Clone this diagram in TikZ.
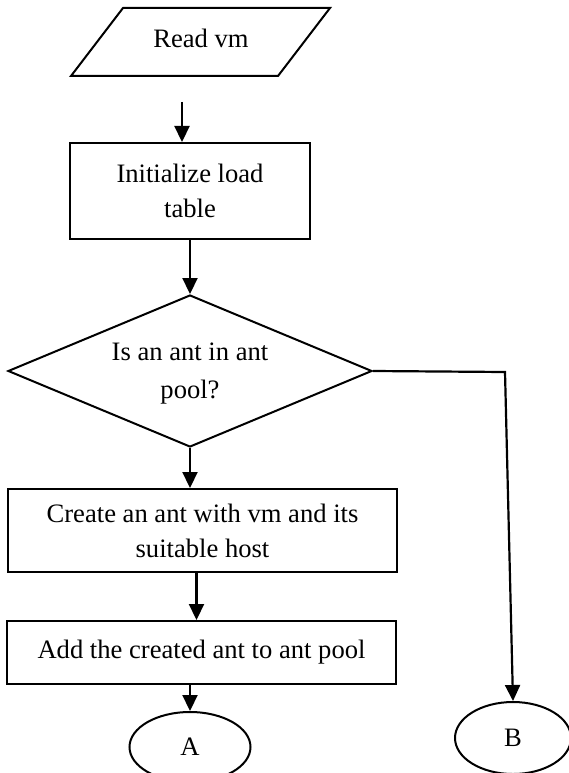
\documentclass[tikz,border=0pt]{standalone}
\usepackage{fontspec}
\setmainfont{Liberation Serif}
\usetikzlibrary{arrows.meta,shapes.geometric}
\begin{document}
\begin{tikzpicture}[x=1pt,y=-1pt,
  every node/.style={font=\fontsize{26.6}{35}\selectfont, align=center},
  shp/.style={draw, line width=2pt},
  box/.style={shp, rectangle, inner sep=0pt},
  arr/.style={line width=2.2pt, -{Triangle[length=16pt,width=15pt]}}]
\useasboundingbox (0,0) rectangle (568,773);
% parallelogram input
\draw[shp, line join=miter] (123,8) -- (330,8) -- (278,76) -- (71,76) -- cycle;
\node (read) at (201,38) {Read vm};
\coordinate (r1) at (182,102);
% boxes
\node[box, minimum width=240pt, minimum height=96pt] (init) at (190,191) {Initialize load\\table};
\node[shp, diamond, inner sep=0pt, minimum width=364pt, minimum height=152pt] (dia) at (190,371) {};
\node[font=\fontsize{26.6}{38}\selectfont] at (190,374) {Is an ant in ant\\pool?};
\node[box, minimum width=389pt, minimum height=83pt] (create) at (202.5,530.5) {Create an ant with vm and its\\suitable host};
\node[box, minimum width=389pt, minimum height=63pt] (add) at (201.5,652.5) {Add the created ant to ant pool};
\node[shp, ellipse, inner sep=0pt, minimum width=121pt, minimum height=70pt] (A) at (190,747) {A};
\node[shp, ellipse, inner sep=0pt, minimum width=116pt, minimum height=72pt] (B) at (513,738) {B};
\coordinate (bc) at (505,372);
% connectors
\draw[arr] (r1) -- (r1 |- init.north);
\draw[arr] (init.south) -- (dia.north);
\draw[arr] (dia.south) -- (dia.south |- create.north);
\draw[arr] ([xshift=-6pt]create.south) -- ([xshift=-6pt]create.south |- add.north);
\draw[arr] (A.north |- add.south) -- (A.north);
\draw[arr] (dia.east) -- (bc) -- (B.north);
\end{tikzpicture}
\end{document}
